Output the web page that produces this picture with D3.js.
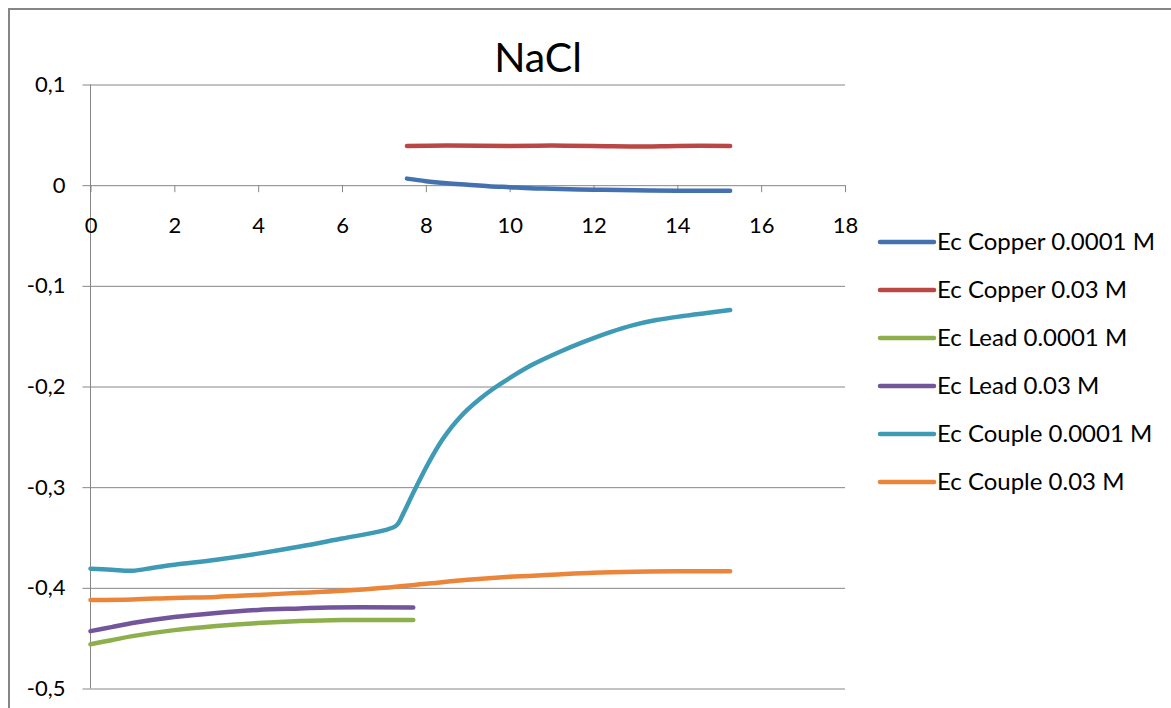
<!DOCTYPE html>
<html>
<head>
<meta charset="utf-8">
<script src="https://cdn.jsdelivr.net/npm/d3@7"></script>
<style>
    body { margin: 0; background: #fff; }
    svg { display: block; font-family: Lato, "Open Sans", sans-serif; }
</style>
</head>
<body>
<div id="graph"></div>
<script>

// Données (temps, potentiel)
const copper0001X = [7.55, 8, 8.5, 9, 9.5, 10, 10.5, 11, 12, 13, 14, 15.26];
const copper0001Y = [0.0065, 0.004, 0.002, 0.0005, -0.001, -0.002, -0.003, -0.0035, -0.0045, -0.005, -0.0055, -0.0055];

const copper003X = [7.55, 8.5, 10, 11, 12, 13.2, 14, 15.26];
const copper003Y = [0.039, 0.0395, 0.039, 0.0393, 0.039, 0.0385, 0.039, 0.039];

const lead0001X = [0, 0.5, 1, 2, 3, 4, 5, 6, 7.7];
const lead0001Y = [-0.456, -0.452, -0.448, -0.442, -0.438, -0.435, -0.433, -0.432, -0.432];

const lead003X = [0, 0.5, 1, 2, 3, 4, 5, 5.7, 7.7];
const lead003Y = [-0.443, -0.439, -0.435, -0.429, -0.425, -0.422, -0.4205, -0.4195, -0.4195];

const couple0001X = [0, 0.5, 1, 1.5, 2, 3, 4, 5, 6, 7, 7.3, 7.47, 7.66, 7.78, 8.0, 8.2, 8.4, 8.6, 8.8, 9.0, 9.3, 9.6, 10.1, 10.56, 11.2, 11.75, 12.4, 12.95, 13.5, 14.14, 14.7, 15.26];
const couple0001Y = [-0.381, -0.382, -0.383, -0.380, -0.377, -0.372, -0.366, -0.359, -0.351, -0.343, -0.338, -0.3255, -0.309, -0.299, -0.281, -0.266, -0.2525, -0.241, -0.2312, -0.2228, -0.212, -0.2025, -0.189, -0.178, -0.1655, -0.156, -0.146, -0.139, -0.134, -0.130, -0.127, -0.124];

const couple003X = [0, 1, 2, 3, 4, 5, 6, 7, 8, 9, 10, 11, 12, 13, 14, 15.26];
const couple003Y = [-0.412, -0.4115, -0.410, -0.409, -0.407, -0.405, -0.403, -0.400, -0.396, -0.392, -0.389, -0.387, -0.385, -0.384, -0.3835, -0.3835];

const seriesNames = ["Ec Copper 0.0001 M", "Ec Copper 0.03 M", "Ec Lead 0.0001 M", "Ec Lead 0.03 M", "Ec Couple 0.0001 M", "Ec Couple 0.03 M"];
const seriesColors = ["#4472b0", "#bb4744", "#8db04d", "#72559b", "#3f9ab6", "#eb853a"];

const xTicks = [0, 2, 4, 6, 8, 10, 12, 14, 16, 18];
const yTicks = [0.1, 0, -0.1, -0.2, -0.3, -0.4, -0.5];

//---------------------------------------------------------------------------------------

// assemblage des séries
const allX = [copper0001X, copper003X, lead0001X, lead003X, couple0001X, couple003X];
const allY = [copper0001Y, copper003Y, lead0001Y, lead003Y, couple0001Y, couple003Y];

const series = seriesNames.map((name, i) => ({
    name: name,
    col: seriesColors[i],
    values: allX[i].map((x, j) => ({ x: x, y: allY[i][j] }))
}));

//---------------------------------------------------------------------------------------

// Canevas
const W = 1171;
const H = 708;

const svg = d3.select("#graph")
    .append("svg")
    .attr("width", W)
    .attr("height", H);

// cadre extérieur du graphique (coupé à droite et en bas)
svg.append("rect")
    .attr("x", 9)
    .attr("y", 9)
    .attr("width", W + 20)
    .attr("height", H + 20)
    .attr("fill", "#fff")
    .attr("stroke", "#868686")
    .attr("stroke-width", 2);

//---------------------------------------------------------------------------------------

// Échelles
const scaleX = d3.scaleLinear()
    .domain([0, 18])
    .range([90.5, 845]);

const scaleY = d3.scaleLinear()
    .domain([-0.5, 0.1])
    .range([688.5, 84.5]);

// format à la française : virgule décimale, tiret simple
const fmt = d => Math.abs(d) < 1e-9 ? "0" : d.toFixed(1).replace(".", ",");

//---------------------------------------------------------------------------------------

// Axe Y avec lignes horizontales
svg.append("g")
    .attr("transform", `translate(${scaleX(0)}, 0)`)
    .call(d3.axisLeft(scaleY)
        .tickValues(yTicks)
        .tickSize(8)
        .tickPadding(17)
        .tickFormat(fmt))
    .call(g => g.select(".domain").attr("stroke", "#868686").attr("d", `M0,${scaleY(0.1)}V${scaleY(-0.5)}`))
    .call(g => g.selectAll(".tick line").attr("stroke", "#868686"))
    .call(g => g.selectAll(".tick line").clone()
        .attr("x2", scaleX(18) - scaleX(0))
        .attr("stroke", "#868686"))
    .call(g => g.selectAll("text")
        .attr("fill", "#000")
        .attr("font-size", "22px")
        .attr("font-family", "Lato, 'Open Sans', sans-serif"));

// Axe X placé à y = 0
svg.append("g")
    .attr("transform", `translate(0, ${scaleY(0)})`)
    .call(d3.axisBottom(scaleX)
        .tickValues(xTicks)
        .tickSize(7)
        .tickPadding(25)
        .tickFormat(d3.format("d")))
    .call(g => g.select(".domain").remove())
    .call(g => g.selectAll(".tick line").attr("stroke", "#868686"))
    .call(g => g.selectAll("text")
        .attr("fill", "#000")
        .attr("font-size", "22px")
        .attr("font-family", "Lato, 'Open Sans', sans-serif"));

//---------------------------------------------------------------------------------------

// Courbes lissées
const lineGenerator = d3.line()
    .x(d => scaleX(d.x))
    .y(d => scaleY(d.y))
    .curve(d3.curveCatmullRom.alpha(0.5));

svg.append("g")
    .selectAll("path")
    .data(series)
    .join("path")
    .attr("d", d => lineGenerator(d.values))
    .attr("fill", "none")
    .attr("stroke", d => d.col)
    .attr("stroke-width", 4.5)
    .attr("stroke-linecap", "round")
    .attr("stroke-linejoin", "round");

//---------------------------------------------------------------------------------------

// Titre
svg.append("text")
    .attr("x", 538)
    .attr("y", 72)
    .attr("text-anchor", "middle")
    .attr("font-size", "41px")
    .text("NaCl");

//---------------------------------------------------------------------------------------

// Légende
const legend = svg.selectAll(".legend")
    .data(series)
    .join("g")
    .attr("class", "legend")
    .attr("transform", (d, i) => `translate(880, ${242 + i * 48})`);

legend.append("line")
    .attr("x1", 0)
    .attr("x2", 54)
    .attr("stroke", d => d.col)
    .attr("stroke-width", 4.5)
    .attr("stroke-linecap", "round");

legend.append("text")
    .attr("x", 57)
    .attr("y", 8)
    .attr("font-size", "24px")
    .text(d => d.name);

</script>
</body>
</html>
